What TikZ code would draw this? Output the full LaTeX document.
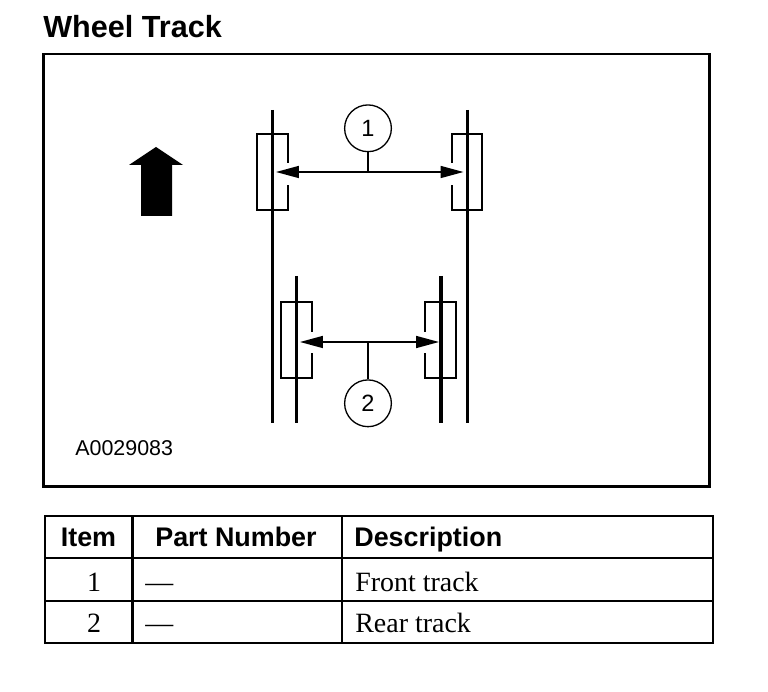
\documentclass[tikz,border=0pt]{standalone}
\usepackage{fontspec}
\setmainfont{Liberation Serif}
\setsansfont{Liberation Sans}
\usetikzlibrary{arrows.meta}
\tikzset{track/.style = {line width = 1.9pt}}
\tikzset{tyre/.style = {line width = 0.6pt}}
\tikzset{tyrerear/.style = {line width = 1.1pt}}
\tikzset{dim/.style = {line width = 0.85pt,
                       {Triangle[length = 13pt, width = 6.8pt]}-{Triangle[length = 13pt, width = 6.8pt]}}}
\tikzset{callout/.style = {draw, circle, line width = 0.75pt, inner sep = 0, minimum size = 26.6pt,
                           font = \sffamily\fontsize{13.4}{15}\selectfont}}
\tikzset{rule/.style = {line width = 1.3pt}}
\tikzset{head/.style = {inner sep = 0, font = \sffamily\bfseries\fontsize{15.3}{17}\selectfont}}
\tikzset{cell/.style = {inner sep = 0, font = \fontsize{15.9}{18}\selectfont}}

\begin{document}
\begin{tikzpicture}[x = 0.02cm, y = -0.02cm]
    \useasboundingbox [fill = white] (0, 0) rectangle (768, 692);

    \node [anchor = base west, inner sep = 0, font = \sffamily\bfseries\fontsize{17.4}{20}\selectfont] (title) at (43, 38) {Wheel Track};
    \draw [line width = 1.15pt] (43.5, 54) rectangle (709.5, 486.5);

    % direction of travel
    \fill (156, 147) -- (183, 165) -- (172, 165) -- (172, 216) -- (141, 216) -- (141, 165) -- (129, 165) -- cycle;

    % front and rear tracks
    \foreach \x in {272.3, 467.7} {
      \draw [track] (\x, 110) -- (\x, 423);
    }
    \foreach \x in {296.7, 441} {
      \draw [track] (\x, 276) -- (\x, 423);
    }

    % wheels, open where the arrow heads sit
    \draw [tyre] (288, 163) -- (288, 134) -- (257, 134) -- (257, 210) -- (288, 210) -- (288, 185);
    \draw [tyre] (452, 163) -- (452, 134) -- (482, 134) -- (482, 210) -- (452, 210) -- (452, 185);
    \draw [tyrerear] (312, 332) -- (312, 302) -- (281, 302) -- (281, 378) -- (312, 378) -- (312, 353);
    \draw [tyrerear] (425, 332) -- (425, 302) -- (456, 302) -- (456, 378) -- (425, 378) -- (425, 353);

    \coordinate (fl) at (276, 172);
    \coordinate (fr) at (463.5, 172);
    \coordinate (rl) at (300, 342);
    \coordinate (rr) at (439, 342);
    \draw [dim] (fl) -- (fr);
    \draw [dim] (rl) -- (rr);

    \node [callout] (c1) at (368, 128.3) {1};
    \draw [line width = 0.85pt] (c1) -- (c1 |- fl);
    \node [callout] (c2) at (368, 403.3) {2};
    \draw [line width = 0.85pt] (c2) -- (c2 |- rl);

    \node [anchor = base west, inner sep = 0, font = \sffamily\fontsize{12.2}{14}\selectfont] (fig) at (75, 456) {A0029083};

    % parts table
    \draw [rule] (45, 515.7) rectangle (712.7, 642.7);
    \foreach \y in {557.7, 601} {
      \draw [rule] (45, \y) -- (712.7, \y);
    }
    \foreach \x in {132.5, 341.7} {
      \draw [rule] (\x, 515.7) -- (\x, 642.7);
    }
    \node [head, anchor = base] (item) at (88.5, 547) {Item};
    \node [head, anchor = base] (part) at (236, 547) {Part Number};
    \node [head, anchor = base west] (desc) at (354, 547) {Description};
    \foreach \n/\y/\t in {1/591.5/Front track, 2/633/Rear track} {
      \node [cell, anchor = base] (num\n) at (94, \y) {\n};
      \node [cell, anchor = base west] (dash\n) at (145, \y) {—};
      \node [cell, anchor = base west] (text\n) at (355, \y) {\t};
    }
  \end{tikzpicture}
\end{document}
